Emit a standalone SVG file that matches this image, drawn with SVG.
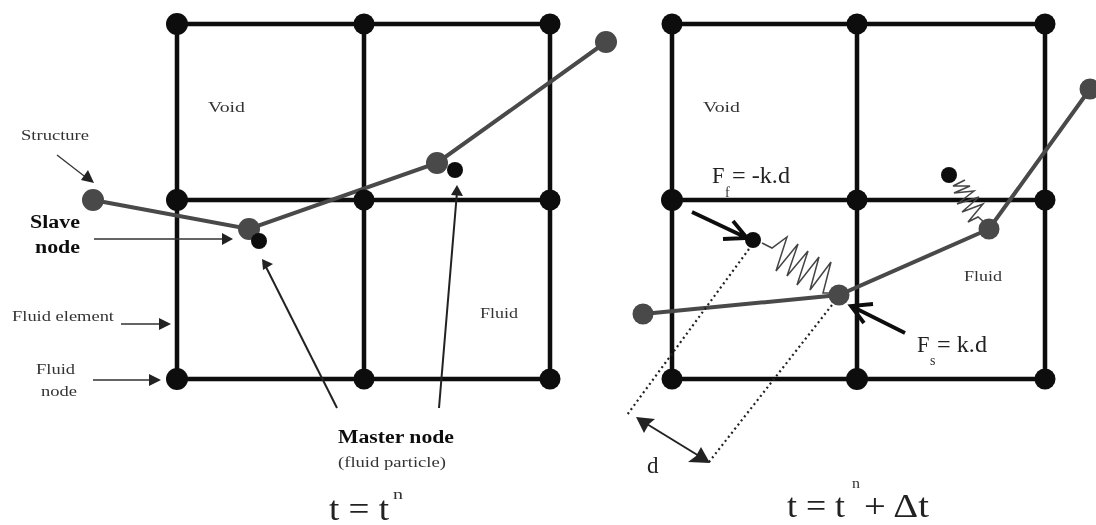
<svg xmlns="http://www.w3.org/2000/svg" width="1096" height="525" viewBox="0 0 1096 525">
<defs>
<style>
text{font-family:"Liberation Serif","Times New Roman",serif;fill:#333}
.s{font-size:14.5px}
.b{font-size:18px;font-weight:bold;fill:#111}
.f{font-size:23px;fill:#222}
.sub{font-size:14px;fill:#333}
.eq{font-size:34px;fill:#222}
.grid{stroke:#111;stroke-width:4.5;fill:none}
.fn{fill:#0d0d0d}
.sn{fill:#484848}
.st{stroke:#484848;stroke-width:4;fill:none}
.thin{stroke:#333;stroke-width:1.3;fill:none}
.thick{stroke:#111;stroke-width:3.8;fill:none}
.med{stroke:#222;stroke-width:2;fill:none}
.head{fill:#222}
.dot{stroke:#222;stroke-width:2.2;stroke-dasharray:2 3.2;fill:none}
.spr{stroke:#444;stroke-width:1.5;fill:none}
</style>
<filter id="soft" x="0" y="0" width="1" height="1"><feGaussianBlur stdDeviation="0.55"/></filter>
</defs>
<rect width="1096" height="525" fill="#fff"/>
<g filter="url(#soft)">
<g id="connectors">
<path class="grid" d="M177 24H550V379H177ZM364 24V379M177 200H550"/>
<path class="grid" d="M672 24H1045V379H672ZM857 24V379M672 200H1045"/>
<path class="st" d="M93 200L249 229L437 163L606 42"/>
<path class="st" d="M643 314L839 295L989 229L1090 89"/>
<path class="spr" d="M762 243L772 248L787 237L776 271L798 244L787 276L808 251L797 285L819 257L810 290L831 262L823 293L829 293"/>
<path class="spr" d="M953 186L965 180L953 186L970 186L954 193L974 191L957 204L979 197L962 212L983 204L968 222L978 217L984 222"/>
<path class="thin" d="M57 155L88 179"/><path class="head" d="M94 183L81 180L88 170Z"/>
<path class="thin" d="M94 239H224"/><path class="head" d="M233 239L222 233V245Z"/>
<path class="thin" d="M121 324H162"/><path class="head" d="M171 324L159 318V330Z"/>
<path class="thin" d="M93 380H152"/><path class="head" d="M161 380L149 374V386Z"/>
<path class="med" d="M337 408L266 267"/><path class="head" d="M262 259L273 264L263 270Z"/>
<path class="med" d="M439 408L457 192"/><path class="head" d="M457 185L451 195L463 196Z"/>
<path class="dot" d="M749 249L627 415"/>
<path class="dot" d="M832 305L709 462"/>
<path class="thick" d="M692 212L747 238M733 221L747 238L723 239"/>
<path class="thick" d="M905 333L851 306M873 304L851 306L864 323"/>
<path class="med" d="M642 421L704 459"/><path class="head" d="M636 417L655 419L649 424L644 433Z"/><path class="head" d="M710 463L688 462L696 456L701 447Z"/>
</g>
<g id="grid-left">
<circle class="fn" cx="177" cy="24" r="11"/><circle class="fn" cx="364" cy="24" r="10.5"/><circle class="fn" cx="550" cy="24" r="10.5"/>
<circle class="fn" cx="177" cy="200" r="11"/><circle class="fn" cx="364" cy="200" r="10.5"/><circle class="fn" cx="550" cy="200" r="10.5"/>
<circle class="fn" cx="177" cy="379" r="11"/><circle class="fn" cx="364" cy="379" r="10.5"/><circle class="fn" cx="550" cy="379" r="10.5"/>
</g>
<g id="grid-right">
<circle class="fn" cx="672" cy="24" r="10.5"/><circle class="fn" cx="857" cy="24" r="10.5"/><circle class="fn" cx="1045" cy="24" r="10.5"/>
<circle class="fn" cx="672" cy="200" r="11"/><circle class="fn" cx="857" cy="200" r="10.5"/><circle class="fn" cx="1045" cy="200" r="10.5"/>
<circle class="fn" cx="672" cy="379" r="10.5"/><circle class="fn" cx="857" cy="379" r="11"/><circle class="fn" cx="1045" cy="379" r="10.5"/>
</g>
<g id="structure-left">
<circle class="sn" cx="93" cy="200" r="11"/><circle class="sn" cx="249" cy="229" r="11"/><circle class="sn" cx="437" cy="163" r="11"/><circle class="sn" cx="606" cy="42" r="11"/>
</g>
<g id="master-left">
<circle class="fn" cx="259" cy="241" r="8"/><circle class="fn" cx="455" cy="170" r="8"/>
</g>
<g id="structure-right">
<circle class="sn" cx="643" cy="314" r="10.5"/><circle class="sn" cx="839" cy="295" r="10.5"/><circle class="sn" cx="989" cy="229" r="10.5"/><circle class="sn" cx="1090" cy="89" r="10.5"/>
</g>
<g id="master-right">
<circle class="fn" cx="753" cy="240" r="8"/><circle class="fn" cx="949" cy="175" r="8"/>
</g>
<g id="labels">
<text class="s" x="208" y="112" textLength="37" lengthAdjust="spacingAndGlyphs">Void</text>
<text class="s" x="703" y="112" textLength="37" lengthAdjust="spacingAndGlyphs">Void</text>
<text class="s" x="21" y="140" textLength="68" lengthAdjust="spacingAndGlyphs">Structure</text>
<text class="b" x="30" y="228" textLength="50" lengthAdjust="spacingAndGlyphs">Slave</text>
<text class="b" x="35" y="253" textLength="45" lengthAdjust="spacingAndGlyphs">node</text>
<text class="s" x="12" y="321" textLength="102" lengthAdjust="spacingAndGlyphs">Fluid element</text>
<text class="s" x="36" y="374" textLength="39" lengthAdjust="spacingAndGlyphs">Fluid</text>
<text class="s" x="41" y="396" textLength="36" lengthAdjust="spacingAndGlyphs">node</text>
<text class="s" x="480" y="318" textLength="38" lengthAdjust="spacingAndGlyphs">Fluid</text>
<text class="s" x="964" y="281" textLength="38" lengthAdjust="spacingAndGlyphs">Fluid</text>
<text class="b" x="338" y="443" textLength="116" lengthAdjust="spacingAndGlyphs">Master node</text>
<text class="s" x="338" y="467" textLength="108" lengthAdjust="spacingAndGlyphs">(fluid particle)</text>
<text class="f" x="712" y="183" textLength="12.5" lengthAdjust="spacingAndGlyphs">F</text><text class="sub" x="725" y="197">f</text><text class="f" x="732" y="183" textLength="58" lengthAdjust="spacingAndGlyphs">= -k.d</text>
<text class="f" x="917" y="352" textLength="12.5" lengthAdjust="spacingAndGlyphs">F</text><text class="sub" x="930" y="365">s</text><text class="f" x="937" y="352" textLength="50" lengthAdjust="spacingAndGlyphs">= k.d</text>
<text class="f" x="647" y="473">d</text>
<text class="eq" x="329" y="520" textLength="60" lengthAdjust="spacingAndGlyphs">t = t</text><text class="sub" x="393" y="499" textLength="10" lengthAdjust="spacingAndGlyphs">n</text>
<text class="eq" x="787" y="517" textLength="58" lengthAdjust="spacingAndGlyphs">t = t</text><text class="sub" x="852" y="488" textLength="8" lengthAdjust="spacingAndGlyphs">n</text><text class="eq" x="864" y="517" textLength="65" lengthAdjust="spacingAndGlyphs">+ Δt</text>
</g>
</g>
</svg>
